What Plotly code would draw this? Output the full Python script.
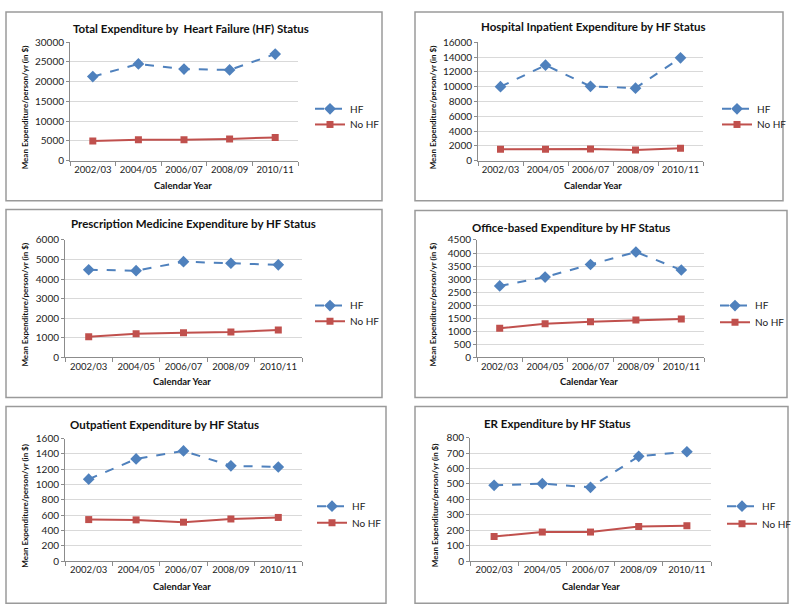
import plotly.graph_objects as go

years = ["2002/03", "2004/05", "2006/07", "2008/09", "2010/11"]

titles = [
    "Total Expenditure by  Heart Failure (HF) Status",
    "Hospital Inpatient Expenditure by HF Status",
    "Prescription Medicine Expenditure by HF Status",
    "Office-based Expenditure by HF Status",
    "Outpatient Expenditure by HF Status",
    "ER Expenditure by HF Status",
]

total_hf = [21300, 24500, 23200, 23000, 27000]
total_nohf = [5000, 5300, 5300, 5500, 5900]
inpatient_hf = [10000, 12900, 10050, 9800, 13900]
inpatient_nohf = [1540, 1540, 1580, 1450, 1670]
rx_hf = [4480, 4430, 4890, 4810, 4730]
rx_nohf = [1060, 1210, 1260, 1300, 1400]
office_hf = [2740, 3080, 3560, 4040, 3350]
office_nohf = [1120, 1290, 1370, 1430, 1470]
outpatient_hf = [1070, 1335, 1440, 1245, 1230]
outpatient_nohf = [542, 538, 508, 550, 570]
er_hf = [491, 502, 478, 679, 709]
er_nohf = [159, 188, 188, 224, 229]

hf_series = [total_hf, inpatient_hf, rx_hf, office_hf, outpatient_hf, er_hf]
nohf_series = [total_nohf, inpatient_nohf, rx_nohf, office_nohf, outpatient_nohf, er_nohf]
y_max = [30000, 16000, 6000, 4500, 1600, 800]
y_dtick = [5000, 2000, 1000, 500, 200, 100]

W, H = 800, 615
FONT = "Lato"
BLUE = "#4F81BD"
RED = "#C0504D"

# pixel layouts (left, right, top, bottom)
plot_px = [(70, 298, 36, 157), (478, 703, 36, 157), (65, 302, 238, 358),
           (477, 704, 238, 358), (65, 302, 441, 566), (470, 711, 440, 566)]
box_px = [(6, 382, 5, 198), (415, 783, 5, 198), (6, 382, 207, 399),
          (415, 787, 208, 399), (6, 386, 408, 609), (415, 788, 408, 609)]
title_px = [(191, 22), (593, 20), (193, 221), (571, 225), (164, 427), (557, 426)]
ytitle_px = [25, 433, 25, 433, 25, 435]
xtitle_px = [(183, 182), (593, 182), (182, 383), (589, 383), (182, 592), (591, 592)]
# legend: (x of line start, y of HF item, y of No HF item)
legend_px = [(315, 104, 120), (722, 104, 120), (315, 305, 321),
             (720, 305, 322), (317, 510, 527), (727, 510, 528)]

def px(x):
    return x / W

def py(y):
    return 1 - y / H

fig = go.Figure()
shapes = []
annotations = []
layout = {}

for i in range(6):
    n = "" if i == 0 else str(i + 1)
    lg_hf = "legend" + ("" if i == 0 else str(2 * i + 1))
    lg_no = "legend" + str(2 * i + 2)
    fig.add_trace(go.Scatter(
        x=years, y=hf_series[i], name="HF", mode="lines+markers",
        line=dict(color=BLUE, width=2, dash="dash"),
        marker=dict(symbol="diamond", size=9, color=BLUE),
        xaxis="x" + n, yaxis="y" + n, legend=lg_hf, showlegend=True))
    fig.add_trace(go.Scatter(
        x=years, y=nohf_series[i], name="No HF", mode="lines+markers",
        line=dict(color=RED, width=2),
        marker=dict(symbol="square", size=7, color=RED),
        xaxis="x" + n, yaxis="y" + n, legend=lg_no, showlegend=True))
    l, r, t, b = plot_px[i]
    layout["xaxis" + n] = dict(
        domain=[px(l), px(r)], anchor="y" + n, type="category",
        range=[-0.5, 4.5], tickson="boundaries", ticks="outside", ticklen=4,
        tickcolor="#8c8c8c", showline=True, linecolor="#8c8c8c", linewidth=1,
        showgrid=False, tickangle=0,
        tickfont=dict(family=FONT, size=9.5, color="#222"))
    layout["yaxis" + n] = dict(
        domain=[py(b), py(t)], anchor="x" + n, range=[0, y_max[i]],
        dtick=y_dtick[i], tickformat="d", ticks="outside", ticklen=3,
        tickcolor="#8c8c8c", showline=True, linecolor="#8c8c8c", linewidth=1,
        showgrid=True, gridcolor="#d9d9d9", gridwidth=1, zeroline=False,
        tickfont=dict(family=FONT, size=10, color="#222"))
    lx, ly1, ly2 = legend_px[i]
    for lg, ly in ((lg_hf, ly1), (lg_no, ly2)):
        layout[lg] = dict(
            x=px(lx - 5), y=py(ly), xanchor="left", yanchor="middle",
            font=dict(family=FONT, size=10, color="#222"), itemwidth=30,
            bgcolor="rgba(0,0,0,0)")
    bl, br, bt, bb = box_px[i]
    shapes.append(dict(type="rect", xref="paper", yref="paper",
                       x0=px(bl), x1=px(br), y0=py(bb), y1=py(bt),
                       line=dict(color="#9a9a9a", width=1.5)))
    tx, ty = title_px[i]
    annotations.append(dict(text="<b>" + titles[i] + "</b>", x=px(tx), y=py(ty),
                            xref="paper", yref="paper", showarrow=False,
                            xanchor="center", yanchor="middle",
                            font=dict(family=FONT, size=11.5, color="#111")))
    annotations.append(dict(text="<b>Mean Expenditure/person/yr (in $)</b>",
                            x=px(ytitle_px[i]), y=py((t + b) / 2 + 6),
                            xref="paper", yref="paper", showarrow=False,
                            textangle=-90, xanchor="center", yanchor="middle",
                            font=dict(family=FONT, size=8, color="#111")))
    xx, xy = xtitle_px[i]
    annotations.append(dict(text="<b>Calendar Year</b>", x=px(xx), y=py(xy),
                            xref="paper", yref="paper", showarrow=False,
                            xanchor="center", yanchor="middle",
                            font=dict(family=FONT, size=9.5, color="#111")))

fig.update_layout(
    width=W, height=H, margin=dict(l=0, r=0, t=0, b=0),
    paper_bgcolor="white", plot_bgcolor="white", showlegend=True,
    shapes=shapes, annotations=annotations, **layout)

fig.write_html("out.html", config={"displayModeBar": False},
               post_script="document.body.style.margin='0';"
                           "document.body.style.overflow='hidden';")
